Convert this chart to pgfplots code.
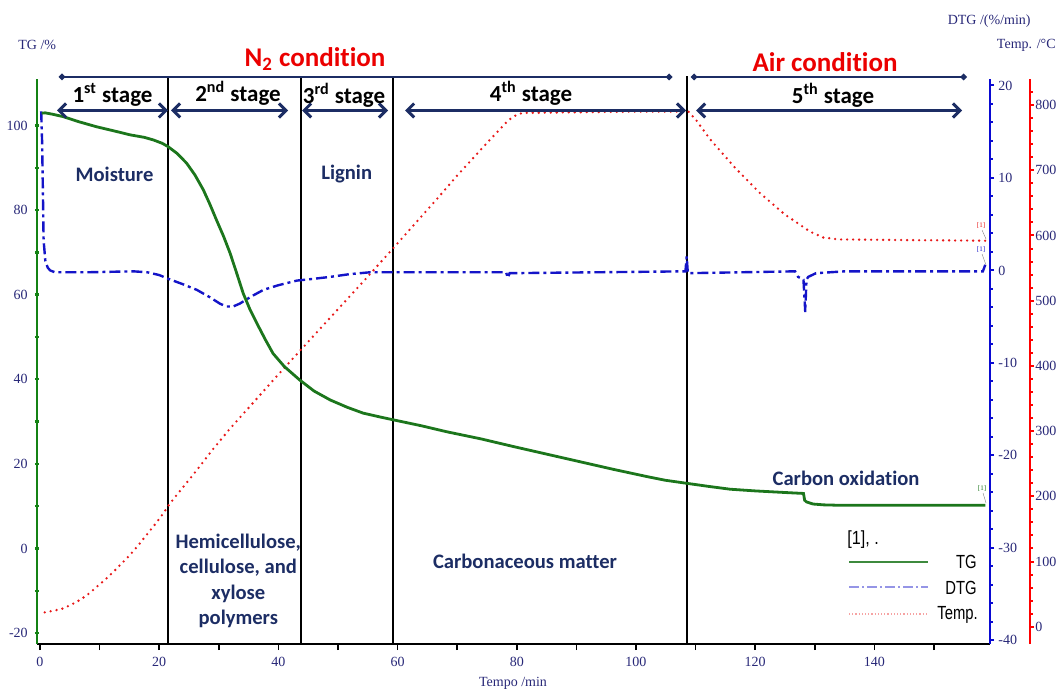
\documentclass[border=0pt]{standalone}
\usepackage{pgfplots}
\pgfplotsset{compat=1.18}
\usepackage{graphicx}
\usepackage{fontspec}
\setmainfont{Liberation Serif}
\newfontfamily\calb[RawFeature={-liga}]{Carlito}
\newfontfamily\arialf{Liberation Sans}
\usetikzlibrary{arrows.meta}
\definecolor{tgc}{RGB}{28,118,28}
\definecolor{axg}{RGB}{20,130,20}
\definecolor{dtgc}{RGB}{20,20,200}
\definecolor{axb}{RGB}{10,10,210}
\definecolor{tc}{RGB}{232,25,25}
\definecolor{navy}{RGB}{28,45,100}
\definecolor{tickc}{RGB}{40,40,120}
\definecolor{redt}{RGB}{235,0,0}

\pgfplotstableread{
t tg
0.28 102.9
0.84 103.0
2.0 102.7
3.9 102.1
6.5 100.9
9.5 99.7
12.5 98.7
15.1 97.8
17.5 97.2
19.0 96.6
20.5 95.8
21.5 95.0
23.0 93.4
24.6 91.1
26.0 88.3
27.4 84.8
28.5 81.4
29.6 77.7
30.8 73.8
31.9 69.8
33.0 65.1
34.1 60.3
35.2 56.6
36.4 53.2
37.8 49.4
39.1 46.1
41.0 43.0
43.6 39.8
46.0 37.2
48.7 35.1
51.5 33.4
54.2 32.0
57.0 31.1
59.3 30.4
64.0 29.0
68.2 27.6
74.0 25.9
79.4 24.1
85.0 22.3
90.6 20.5
96.2 18.7
101.8 17.0
105.0 16.1
108.5 15.4
112.0 14.7
115.8 14.0
120.0 13.6
125.3 13.2
128.1 13.0
128.3 11.4
128.6 11.0
129.7 10.5
131.5 10.3
134.2 10.2
145.0 10.2
158.6 10.2
}\tgdata

\pgfplotstableread{
t dtg
0.2 17.2
0.35 14.0
0.5 8.0
0.6 3.3
0.9 1.0
1.3 0.3
1.7 0.0
2.5 -0.2
8.0 -0.2
15.7 -0.1
18.0 -0.2
20.0 -0.5
21.5 -0.9
24.0 -1.5
26.3 -2.1
28.5 -2.9
30.2 -3.6
31.3 -3.9
32.4 -3.9
33.5 -3.6
35.5 -2.8
37.5 -2.1
40.0 -1.6
43.1 -1.1
46.0 -0.9
48.7 -0.7
52.0 -0.4
55.4 -0.2
78.2 -0.2
78.5 -0.8
78.8 -0.3
108.3 -0.1
108.5 1.5
108.7 -0.3
126.7 -0.1
127.2 -0.7
128.1 -1.0
128.4 -4.5
128.6 -1.0
128.9 -0.7
130.2 -0.3
135.0 -0.1
158.2 -0.1
158.6 0.6
}\dtgdata

\pgfplotstableread{
t temp
0.8 22
2.5 25
3.9 28
5.3 34
6.7 41
8.1 50
9.5 61
10.9 72
12.3 84
13.7 97
15.1 110
16.5 125
17.9 141
19.3 157
20.7 174
21.8 189
24.0 214
26.3 240
29.0 272
31.9 304
36.4 350
40.0 387
45.0 437
50.0 487
55.0 537
60.0 588
66.6 656
70.0 692
75.0 742
78.5 776
79.4 782
80.2 786
81.1 788
90.0 789
100.0 790
106.3 790
108.8 790
110.0 778
112.4 748
116.5 705
120.8 665
125.0 632
129.2 606
131.4 597
134.0 594
145.0 593
158.6 592
}\tempdata

\begin{document}
\begin{tikzpicture}
\useasboundingbox (0,0) rectangle (529pt,345.5pt);
\pgfplotsset{
  common/.style={scale only axis, width=476.5pt, height=282.5pt,
    at={(18.5pt,23.5pt)}, anchor=south west,
    xmin=-0.503, xmax=159.4,
    tick label style={font=\fontsize{7}{8}\selectfont, text=tickc},
    /pgf/number format/assume math mode=true,
    clip=false},
}
% x axis
\begin{axis}[common, ymin=0, ymax=1,
  axis y line=none, axis x line*=bottom,
  x axis line style={-, black, line width=1.2pt},
  xtick={0,20,...,140}, minor xtick={10,30,...,150},
  tick align=outside, major tick length=3pt, minor tick length=3pt,
  tick style={black, line width=0.8pt}]
\draw[black, line width=1pt] (axis cs:21.4,0) -- (axis cs:21.4,1.006);
\draw[black, line width=1pt] (axis cs:43.8,0) -- (axis cs:43.8,1.006);
\draw[black, line width=1pt] (axis cs:59.2,0) -- (axis cs:59.2,1.006);
\draw[black, line width=1pt] (axis cs:108.6,0) -- (axis cs:108.6,1.006);
\end{axis}
% Temp axis (wider, red)
\begin{axis}[common, width=496.5pt, xmax=166.11, ymin=-26.5, ymax=840,
  axis x line=none, axis y line*=right,
  y axis line style={-, red, line width=1.2pt},
  ytick={0,100,...,800}, minor ytick={20,40,...,820},
  tick align=outside, major tick length=2pt, minor tick length=1.3pt,
  tick style={red, line width=1pt},
  yticklabel style={xshift=-2.8pt}]
\addplot[tc, line width=1.3pt, dash pattern=on 0pt off 3pt, line cap=round] table[x=t,y=temp] {\tempdata};
\end{axis}
% DTG axis
\begin{axis}[common, ymin=-40.4, ymax=20.7,
  axis x line=none, axis y line*=right,
  y axis line style={-, axb, line width=1.2pt},
  ytick={-40,-30,...,20}, minor ytick={-38,-36,...,18},
  tick align=outside, major tick length=2pt, minor tick length=1.3pt,
  tick style={axb, line width=1pt},
  yticklabel style={xshift=-1.3pt}]
\addplot[dtgc, line width=1.2pt, dash pattern=on 5.5pt off 2pt on 1.5pt off 2pt] table[x=t,y=dtg] {\dtgdata};
\end{axis}
% TG axis
\begin{axis}[common, ymin=-22.6, ymax=111.0,
  axis x line=none, axis y line*=left,
  y axis line style={-, axg, line width=1.2pt},
  ytick={-20,0,...,100}, minor ytick={-10,10,...,90},
  tick align=center, major tick length=2.2pt, minor tick length=2.2pt,
  tick style={axg, line width=1.2pt}]
\addplot[tgc, line width=1.4pt] table[x=t,y=tg] {\tgdata};
\end{axis}

\begin{scope}[x=0.5pt,y=-0.5pt,shift={(0,345.5pt)}]
% axis titles
\node[anchor=west, text=tickc, font=\fontsize{7}{8}\selectfont, inner sep=0] at (18,45) {TG /\%};
\node[anchor=east, text=tickc, font=\fontsize{7}{8}\selectfont, inner sep=0] at (1031,21) {DTG /(\%/min)};
\node[anchor=east, text=tickc, font=\fontsize{7}{8}\selectfont, inner sep=0] at (1056,45) {Temp. /°C};
\node[text=tickc, font=\fontsize{7}{8}\selectfont, inner sep=0] at (513,683) {Tempo /min};
% conditions
\node[text=redt, font=\calb\bfseries\fontsize{13.5}{15}\selectfont, inner sep=0] at (315,59) {N\textsubscript{2} condition};
\node[text=redt, font=\calb\bfseries\fontsize{13.5}{15}\selectfont, inner sep=0] at (825,62) {Air condition};
\draw[navy, line width=0.8pt, {Diamond[length=3.5pt,width=3.5pt]}-{Diamond[length=3.5pt,width=3.5pt]}] (58.5,77) -- (672.5,77);
\draw[navy, line width=0.8pt, {Diamond[length=3.5pt,width=3.5pt]}-{Diamond[length=3.5pt,width=3.5pt]}] (690.5,77) -- (967,77);
% stage arrows
\foreach \a/\b in {57/168, 171/288, 302/388, 405/686, 696/962}{
  \draw[navy, line width=1.5pt, {Straight Barb[length=3.5pt,width=7pt]}-{Straight Barb[length=3.5pt,width=7pt]}] (\a,110.5) -- (\b,110.5);
}
\begin{scope}[every node/.style={font=\calb\bfseries\fontsize{11.5}{13}\selectfont, inner sep=0}]
\node at (112.5,95) {1\textsuperscript{st} stage};
\node at (238,93) {2\textsuperscript{nd} stage};
\node at (344,95) {3\textsuperscript{rd} stage};
\node at (531,93) {4\textsuperscript{th} stage};
\node at (833,95) {5\textsuperscript{th} stage};
\end{scope}
% annotations
\begin{scope}[every node/.style={text=navy, font=\calb\bfseries\fontsize{10.3}{12.7}\selectfont, inner sep=0}]
\node at (114.5,174) {Moisture};
\node at (346.7,174) {Lignin};
\node[align=center] at (238.3,581) {Hemicellulose,\\cellulose, and\\xylose\\polymers};
\node at (525,561) {Carbonaceous matter};
\node at (846,478) {Carbon oxidation};
\end{scope}
% legend
\node[anchor=west, font=\arialf\fontsize{9.5}{10}\selectfont, xscale=0.85, inner sep=0] at (847,540) {[1], .};
\draw[tgc!85, line width=0.6pt] (849,562) -- (928,562);
\draw[dtgc!45, line width=0.9pt, dash pattern=on 5pt off 1.5pt on 1pt off 1.5pt] (849,587) -- (928,587);
\draw[tc!40, line width=0.8pt, dash pattern=on 0.6pt off 1pt] (849,614) -- (928,614);
\node[anchor=east, font=\arialf\fontsize{9.5}{10}\selectfont, xscale=0.78, inner sep=0] at (977,562) {TG};
\node[anchor=east, font=\arialf\fontsize{9.5}{10}\selectfont, xscale=0.78, inner sep=0] at (977,588) {DTG};
\node[anchor=east, font=\arialf\fontsize{9.5}{10}\selectfont, xscale=0.78, inner sep=0] at (978,615) {Temp.};
% tiny end labels
\node[text=tgc, font=\fontsize{3.5}{4}\selectfont, inner sep=0] at (982,489) {[1]};
\draw[gray, line width=0.2pt] (983,493) -- (986,503);
\node[text=tc, font=\fontsize{3.5}{4}\selectfont, inner sep=0] at (981,226) {[1]};
\draw[gray, line width=0.2pt] (982,230) -- (986,239);
\node[text=dtgc, font=\fontsize{3.5}{4}\selectfont, inner sep=0] at (981,250) {[1]};
\draw[gray, line width=0.2pt] (982,254) -- (986,265);
\end{scope}
\end{tikzpicture}
\end{document}
